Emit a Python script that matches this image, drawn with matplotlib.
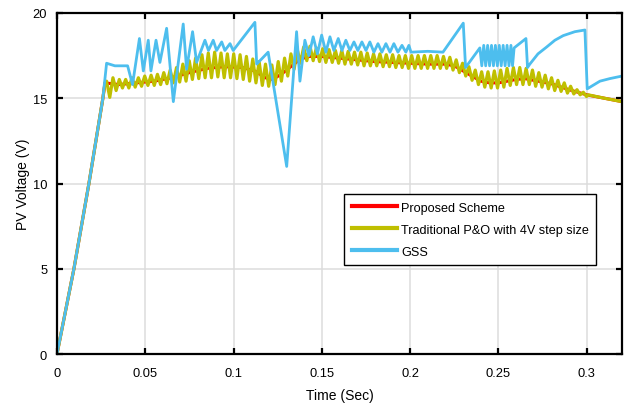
import numpy as np
import matplotlib
matplotlib.use("Agg")
import matplotlib.pyplot as plt

plt.rcParams['font.family'] = ['Liberation Sans', 'DejaVu Sans']

# start-up ramp shared by all three traces (time s, voltage V)
rise_t = [0.0, 0.0096, 0.0181, 0.0260]
rise_v = [0.0, 5.0, 10.0, 15.0]

# proposed scheme (smooth track)
red_t = [0.0272, 0.035, 0.045, 0.055, 0.065, 0.075, 0.085, 0.095, 0.105, 0.112,
         0.118, 0.122, 0.127, 0.133, 0.138, 0.143, 0.150, 0.160, 0.170, 0.180,
         0.190, 0.200, 0.210, 0.220, 0.225, 0.230, 0.235, 0.240, 0.245, 0.250,
         0.260, 0.265, 0.270, 0.280, 0.290, 0.300, 0.310, 0.320]
red_v = [15.9, 15.8, 15.9, 16.0, 16.2, 16.5, 16.75, 16.85, 16.8, 16.6,
         16.2, 16.1, 16.4, 16.9, 17.3, 17.45, 17.45, 17.35, 17.25, 17.15,
         17.1, 17.05, 17.0, 17.0, 16.9, 16.6, 16.3, 16.0, 15.9, 15.9,
         16.1, 16.15, 16.05, 15.85, 15.5, 15.2, 15.0, 14.8]

# traditional P&O: one peak / trough per oscillation cycle
po_t0 = 0.0272
po_period = 0.0036
po_hi = [16.0, 16.2, 16.1, 16.1, 16.2, 16.2, 16.3, 16.35, 16.4, 16.5,
         16.65, 16.8, 17.0, 17.2, 17.35, 17.55, 17.65, 17.7, 17.65, 17.6,
         17.6, 17.55, 17.45, 17.3, 17.15, 17.0, 16.95, 17.15, 17.35, 17.6,
         17.85, 18.0, 18.05, 17.95, 17.9, 17.85, 17.8, 17.8, 17.75, 17.7,
         17.7, 17.65, 17.6, 17.6, 17.55, 17.55, 17.5, 17.5, 17.5, 17.5,
         17.5, 17.5, 17.5, 17.45, 17.4, 17.25, 17.05, 16.85, 16.65, 16.55,
         16.55, 16.6, 16.65, 16.75, 16.8, 16.8, 16.75, 16.65, 16.5, 16.35,
         16.2, 16.05, 15.9, 15.7, 15.5, 15.35]
po_lo = [15.05, 15.45, 15.6, 15.6, 15.65, 15.7, 15.75, 15.75, 15.8, 15.85,
         15.9, 15.95, 16.0, 16.1, 16.15, 16.2, 16.2, 16.25, 16.2, 16.2,
         16.15, 16.1, 16.0, 15.9, 15.75, 15.7, 15.8, 16.0, 16.3, 16.7,
         17.05, 17.2, 17.2, 17.15, 17.1, 17.1, 17.05, 17.0, 17.0, 16.95,
         16.9, 16.9, 16.9, 16.85, 16.85, 16.8, 16.8, 16.75, 16.75, 16.75,
         16.75, 16.75, 16.75, 16.75, 16.65, 16.5, 16.3, 16.05, 15.8, 15.65,
         15.6, 15.6, 15.65, 15.75, 15.8, 15.8, 15.8, 15.7, 15.65, 15.55,
         15.45, 15.4, 15.3, 15.25, 15.2, 15.1]
po_tail_t = [0.3008, 0.310, 0.320]
po_tail_v = [15.2, 15.0, 14.8]

# GSS
gss_t = [0.0281, 0.0328, 0.0400, 0.0428, 0.0467, 0.0489, 0.0517, 0.0532, 0.0561, 0.0583,
         0.0621, 0.0659, 0.0715, 0.0734, 0.0768, 0.0791, 0.0838, 0.0858, 0.0885, 0.0904,
         0.0933, 0.0951, 0.0980, 0.0998, 0.1121, 0.1131, 0.1196, 0.1301, 0.1357, 0.1376,
         0.1404, 0.1427, 0.1451, 0.1475, 0.1499, 0.1523, 0.1546, 0.1568, 0.1593, 0.1614,
         0.1636, 0.1659, 0.1682, 0.1704, 0.1727, 0.1750, 0.1772, 0.1795, 0.1818, 0.1840,
         0.1863, 0.1886, 0.1908, 0.1931, 0.1954, 0.1976, 0.1993, 0.2005, 0.2100, 0.2186,
         0.2301, 0.2314, 0.2395, 0.2406, 0.2417, 0.2428, 0.2439, 0.2450, 0.2461, 0.2472,
         0.2483, 0.2494, 0.2505, 0.2516, 0.2527, 0.2538, 0.2549, 0.2560, 0.2571, 0.2580,
         0.2589, 0.2656, 0.2665, 0.2678, 0.2724, 0.2773,
         0.2820, 0.2867, 0.2933, 0.2990, 0.3003, 0.3075, 0.3131, 0.3200]
gss_v = [17.05, 16.9, 16.9, 15.8, 18.5, 16.6, 18.4, 16.6, 18.4, 17.1,
         19.1, 14.8, 19.35, 16.7, 18.9, 17.1, 18.4, 17.8, 18.4, 17.8,
         18.3, 17.8, 18.2, 17.8, 19.45, 17.0, 17.7, 11.0, 18.9, 16.0,
         18.4, 17.5, 18.6, 17.6, 18.7, 17.7, 18.6, 17.8, 18.5, 17.8,
         18.4, 17.8, 18.3, 17.8, 18.3, 17.8, 18.3, 17.7, 18.2, 17.7,
         18.2, 17.7, 18.2, 17.7, 18.1, 17.7, 18.1, 17.7, 17.75, 17.7,
         19.4, 16.8, 17.95, 16.9, 18.1, 16.9, 18.1, 16.9, 18.1, 16.9,
         18.1, 16.9, 18.1, 16.9, 18.1, 16.9, 18.1, 16.9, 18.1, 16.9,
         17.95, 18.5, 16.8, 17.0, 17.6, 18.0,
         18.4, 18.67, 18.9, 19.0, 15.55, 16.0, 16.15, 16.3]

x_ticks = [0, 0.05, 0.1, 0.15, 0.2, 0.25, 0.3]
x_ticklabels = ['0', '0.05', '0.1', '0.15', '0.2', '0.25', '0.3']
y_ticks = [0, 5, 10, 15, 20]

# assemble traces
red_x = np.concatenate([rise_t, red_t])
red_y = np.concatenate([rise_v, red_v])

k = np.arange(len(po_hi))
peak_t = po_t0 + k * po_period + po_period / 4
trough_t = po_t0 + k * po_period + 3 * po_period / 4
yel_x = np.concatenate([rise_t, [po_t0], np.column_stack([peak_t, trough_t]).ravel(), po_tail_t])
yel_y = np.concatenate([rise_v, [red_v[0]], np.column_stack([po_hi, po_lo]).ravel(), po_tail_v])

blue_x = np.concatenate([rise_t, gss_t])
blue_y = np.concatenate([rise_v, gss_v])

fig = plt.figure(figsize=(6.24, 4.10), dpi=100)
ax = fig.add_axes([0.0913, 0.134, 0.9055, 0.832])

ax.plot(red_x, red_y, color='#FF0000', lw=2.2, label='Proposed Scheme')
ax.plot(yel_x, yel_y, color='#BFBF00', lw=2.3, label='Traditional P&O with 4V step size')
ax.plot(blue_x, blue_y, color='#4DBEEE', lw=2.0, label='GSS')

ax.set_xlim(0, 0.32)
ax.set_ylim(0, 20)
ax.set_xticks(x_ticks)
ax.set_xticklabels(x_ticklabels)
ax.set_yticks(y_ticks)
ax.grid(True, color='#DCDCDC', lw=1.1)
ax.set_axisbelow(True)
for s in ax.spines.values():
    s.set_linewidth(1.6)
ax.tick_params(direction='in', length=4.5, width=1.6, top=True, right=True,
               labelsize=9.3, pad=7)
ax.tick_params(axis='x', pad=9)

ax.set_xlabel('Time (Sec)', fontsize=10, labelpad=7)
ax.set_ylabel('PV Voltage (V)', fontsize=10, labelpad=2)

leg = ax.legend(loc='upper left', bbox_to_anchor=(0.508, 0.469), borderaxespad=0,
                fontsize=9.1, handlelength=3.6, handletextpad=0.3, labelspacing=0.8,
                borderpad=0.6, fancybox=False, framealpha=1)
leg.get_frame().set_edgecolor('black')
leg.get_frame().set_linewidth(1.0)
for line in leg.get_lines():
    line.set_linewidth(3)

fig.savefig('out.png', dpi=100)
